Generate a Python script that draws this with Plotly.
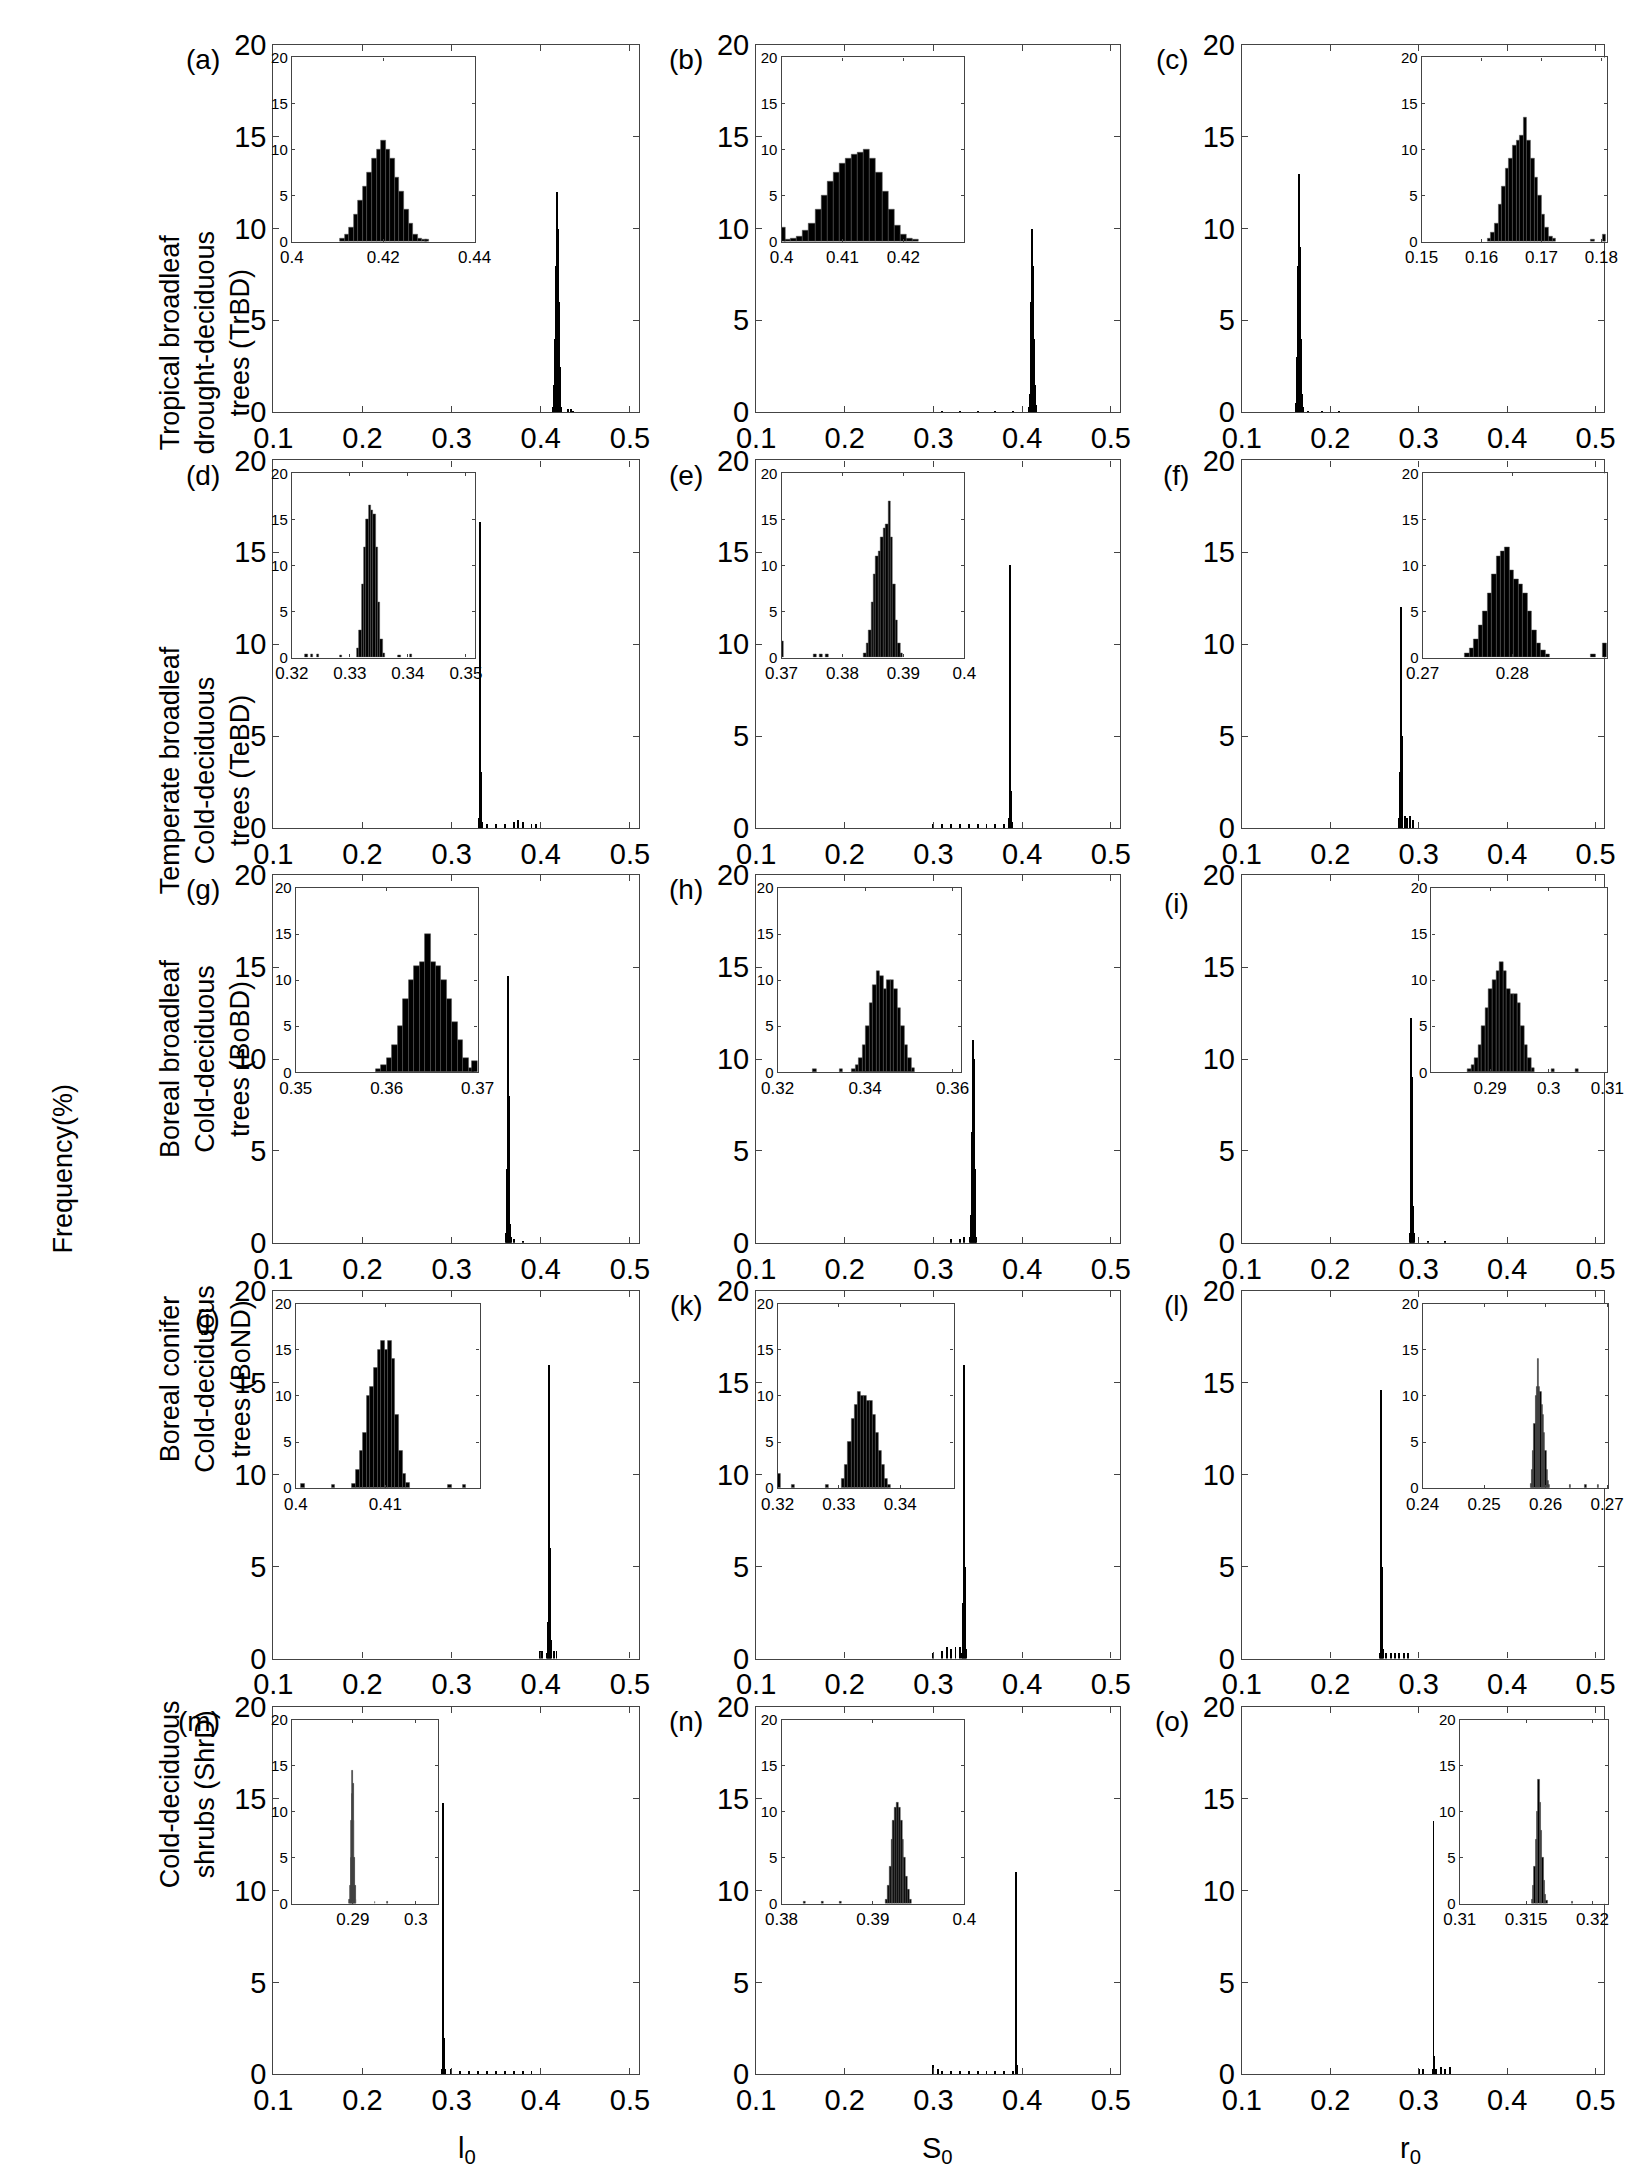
import plotly.graph_objects as go

W, H = 1632, 2169

letters = ["a", "b", "c", "d", "e", "f", "g", "h", "i", "j", "k", "l", "m", "n", "o"]
row_labels = [
    "Tropical broadleaf<br>drought-deciduous<br>trees (TrBD)",
    "Temperate broadleaf<br>Cold-deciduous<br>trees (TeBD)",
    "Boreal broadleaf<br>Cold-deciduous<br>trees (BoBD)",
    "Boreal conifer<br>Cold-deciduous<br>trees (BoND)",
    "Cold-deciduous<br>shrubs (ShrD)",
]
col_labels = ["l<sub>0</sub>", "S<sub>0</sub>", "r<sub>0</sub>"]
main_ticks = [0.1, 0.2, 0.3, 0.4, 0.5]
y_ticks = [0, 5, 10, 15, 20]

# main histogram spike: start, bin width, heights
main_start = [0.414, 0.407, 0.161, 0.331, 0.385, 0.277, 0.361, 0.341, 0.289, 0.407, 0.332, 0.256, 0.289, 0.393, 0.315]
main_width = 0.001
main_y = [
    [0.3, 1.5, 4, 8, 12, 10, 6, 2.5, 0.8, 0.3],
    [0.3, 1, 3, 6, 10, 8, 4, 1.5, 0.4],
    [0.5, 3, 8, 13, 9, 4, 1, 0.3],
    [0.5, 16.6, 3, 0.3],
    [0.5, 14.3, 2, 0.3],
    [0.5, 3, 12, 5, 1],
    [0.5, 4, 14.5, 8, 1, 0.3],
    [0.3, 1.5, 6, 11, 10, 4, 1, 0.3],
    [0.5, 4, 12.2, 9, 2, 0.5],
    [0.3, 2, 16, 6, 1],
    [0.3, 3, 16, 5, 0.5],
    [0.3, 14.6, 5, 0.5],
    [0.3, 14.8, 2, 0.3],
    [11, 0.5],
    [0.3, 13.8, 1, 0.3],
]
# scattered small bars in the main panels
tail_x = [
    [0.431, 0.434, 0.437],
    [0.31, 0.33, 0.35, 0.37, 0.39],
    [0.175, 0.19, 0.21],
    [0.34, 0.35, 0.36, 0.37, 0.375, 0.38, 0.39, 0.395],
    [0.30, 0.31, 0.32, 0.33, 0.34, 0.35, 0.36, 0.37, 0.38],
    [0.284, 0.287, 0.29, 0.293],
    [0.37, 0.38],
    [0.32, 0.33, 0.335],
    [0.31, 0.33],
    [0.399, 0.402, 0.415, 0.418],
    [0.30, 0.31, 0.315, 0.32, 0.325, 0.33],
    [0.263, 0.268, 0.273, 0.278, 0.283, 0.288],
    [0.30, 0.31, 0.32, 0.33, 0.34, 0.35, 0.36, 0.37, 0.38, 0.39, 0.40],
    [0.30, 0.305, 0.31, 0.32, 0.33, 0.34, 0.35, 0.36, 0.37, 0.38, 0.39],
    [0.30, 0.305, 0.32, 0.325, 0.33, 0.335],
]
tail_y = [
    [0.2, 0.2, 0.1],
    [0.1, 0.1, 0.1, 0.1, 0.1],
    [0.1, 0.1, 0.1],
    [0.2, 0.2, 0.2, 0.3, 0.4, 0.3, 0.2, 0.2],
    [0.2, 0.2, 0.2, 0.2, 0.2, 0.2, 0.2, 0.2, 0.2],
    [0.6, 0.5, 0.6, 0.4],
    [0.2, 0.1],
    [0.2, 0.2, 0.3],
    [0.1, 0.1],
    [0.4, 0.4, 0.4, 0.4],
    [0.3, 0.4, 0.6, 0.5, 0.6, 0.6],
    [0.3, 0.3, 0.3, 0.3, 0.3, 0.3],
    [0.3, 0.2, 0.2, 0.2, 0.2, 0.2, 0.2, 0.2, 0.2, 0.2, 0.2],
    [0.5, 0.3, 0.2, 0.2, 0.2, 0.2, 0.2, 0.2, 0.2, 0.2, 0.2],
    [0.3, 0.3, 0.3, 0.4, 0.3, 0.4],
]

# inset histograms: x range, ticks, bin start, bin width, heights, outliers
inset_range = [
    [0.40, 0.44], [0.40, 0.43], [0.15, 0.181],
    [0.32, 0.3515], [0.37, 0.40], [0.27, 0.2906],
    [0.35, 0.37], [0.32, 0.362], [0.28, 0.31],
    [0.40, 0.4205], [0.32, 0.3487], [0.24, 0.2702],
    [0.2803, 0.3036], [0.38, 0.40], [0.31, 0.3212],
]
inset_ticks = [
    [0.4, 0.42, 0.44], [0.4, 0.41, 0.42], [0.15, 0.16, 0.17, 0.18],
    [0.32, 0.33, 0.34, 0.35], [0.37, 0.38, 0.39, 0.4], [0.27, 0.28],
    [0.35, 0.36, 0.37], [0.32, 0.34, 0.36], [0.29, 0.3, 0.31],
    [0.4, 0.41], [0.32, 0.33, 0.34], [0.24, 0.25, 0.26, 0.27],
    [0.29, 0.3], [0.38, 0.39, 0.4], [0.31, 0.315, 0.32],
]
inset_start = [0.4105, 0.4005, 0.1610, 0.3312, 0.3835, 0.2747, 0.3588, 0.3370, 0.2862,
               0.4063, 0.3305, 0.2575, 0.2894, 0.3914, 0.3154]
inset_width = [0.001, 0.001, 0.0006, 0.0004, 0.0004, 0.0005, 0.0006, 0.0008, 0.0006,
               0.0004, 0.0005, 0.0002, 0.0001, 0.0002, 0.0001]
inset_y = [
    [0.3, 0.8, 1.5, 3, 4.5, 6, 7.5, 9, 10, 11, 10, 9, 7, 5.5, 3.5, 2, 0.8, 0.4, 0.2],
    [0.2, 0.3, 0.6, 1.2, 2, 3.5, 5, 6.5, 7.5, 8.5, 9, 9.5, 9.7, 10, 9, 7.5, 5.5, 3.5, 1.8, 0.8, 0.4, 0.2],
    [0.3, 1, 2, 4, 6, 8, 9, 10.5, 11, 11.5, 13.5, 11, 9, 7, 5, 3, 1.5, 0.6, 0.3],
    [1, 3, 8, 12, 15, 16.5, 16, 15.5, 12, 6, 2, 0.5],
    [0.5, 1.5, 3, 6, 9, 11, 11.5, 13, 14, 14.5, 17, 13, 8, 4, 1.5, 0.5],
    [0.5, 1, 2, 3.5, 5, 7, 9, 11, 11.5, 12, 9.5, 8.5, 8, 7, 5, 3, 1.5, 0.8, 0.4],
    [0.3, 0.8, 1.5, 3, 5, 8, 10, 11.5, 12, 15, 12, 11.5, 10, 8, 5.5, 3.5, 1.5, 0.5],
    [0.3, 0.8, 1.5, 3, 5, 7.5, 9.5, 11, 10.5, 9, 10, 10, 9, 7, 5, 3, 1.5, 0.5],
    [0.3, 0.8, 1.5, 3, 5, 7, 9, 10, 11, 12, 11, 9, 8.5, 8.5, 7.5, 5, 3, 1.5, 0.5],
    [0.5, 2, 4, 6, 10, 11, 13, 15, 16, 15, 16, 14, 8, 4, 1.5, 0.6],
    [1, 2.5, 5, 7.5, 9, 10.5, 10, 10, 9.5, 9.5, 8, 6, 4, 2.5, 1, 0.3],
    [0.5, 2, 4, 7, 10, 11, 14, 11, 10.5, 9, 8, 6, 4, 2, 0.8, 0.3],
    [0.5, 2, 5, 9, 12, 14.5, 13, 9, 5, 2, 0.5],
    [0.5, 2, 4, 7, 9, 10.5, 11, 10.5, 9, 7, 5, 3, 1.5, 0.5],
    [0.5, 2, 4, 7, 10, 13.5, 11, 8, 5, 2.5, 1, 0.3],
]
outlier_x = [
    [0.4295], [0.4002], [0.1785, 0.1805],
    [0.3225, 0.3235, 0.3245, 0.3285, 0.3385, 0.3405], [0.3702, 0.3755, 0.3765, 0.3775], [0.2890, 0.2903],
    [0.3697], [0.3285, 0.3345], [0.3007, 0.3048],
    [0.4008, 0.4042, 0.4172, 0.4188], [0.3202, 0.3225, 0.3280], [0.2640, 0.2665, 0.2685],
    [0.2935, 0.2955], [0.3825, 0.3845, 0.3865], [0.3185],
]
outlier_y = [
    [0.2], [1.5], [0.2, 0.8],
    [0.3, 0.3, 0.3, 0.2, 0.2, 0.3], [1.8, 0.3, 0.3, 0.3], [0.3, 1.5],
    [1.2], [0.3, 0.3], [0.3, 0.3],
    [0.5, 0.3, 0.3, 0.3], [1.5, 0.3, 0.3], [0.3, 0.3, 0.3],
    [0.2, 0.2], [0.2, 0.2, 0.2], [0.2],
]

# layout in pixels
col_px = [(251, 625), (745, 1117), (1242, 1613)]
row_top = [21, 443, 864, 1286, 1708]
row_h = 373
inset_px = [
    (270, 187), (771, 187), (1426, 190),
    (270, 187), (771, 187), (1427, 189),
    (274, 186), (767, 188), (1436, 180),
    (274, 188), (767, 180), (1427, 190),
    (270, 150), (771, 187), (1465, 152),
]
letter_dy = [0, 0, 0, 0, 0, 0, 0, 0, 14, 14, 0, 0, 0, 0, 0]

FONT = "Liberation Sans Narrow, Liberation Sans, Arial, sans-serif"
fig = go.Figure()
layout = {}
annotations = []

for p in range(15):
    r, c = divmod(p, 3)
    m_id, i_id = 2 * p + 1, 2 * p + 2
    xl, xr = col_px[c]
    yt, yb = row_top[r], row_top[r] + row_h
    xdom = [xl / W, xr / W]
    ydom = [1 - yb / H, 1 - yt / H]

    mx = [main_start[p] + (k + 0.5) * main_width for k in range(len(main_y[p]))] + tail_x[p]
    my = main_y[p] + tail_y[p]
    fig.add_trace(go.Bar(x=mx, y=my, width=main_width, marker=dict(color="black", line=dict(width=0)),
                         xaxis=f"x{m_id}", yaxis=f"y{m_id}", showlegend=False))

    iw = inset_width[p]
    ix = [inset_start[p] + (k + 0.5) * iw for k in range(len(inset_y[p]))] + outlier_x[p]
    iy = inset_y[p] + outlier_y[p]
    fig.add_trace(go.Bar(x=ix, y=iy, width=iw, marker=dict(color="black", line=dict(color="#555", width=0.5)),
                         xaxis=f"x{i_id}", yaxis=f"y{i_id}", showlegend=False))

    axis_common = dict(showgrid=False, zeroline=False, showline=True, linecolor="#444", linewidth=1.2,
                       mirror="ticks", ticks="inside", tickcolor="#444", fixedrange=True)
    layout[f"xaxis{m_id}"] = dict(axis_common, domain=xdom, anchor=f"y{m_id}", range=[0.1, 0.51],
                                  tickvals=main_ticks, ticktext=[str(t) for t in main_ticks], ticklen=6,
                                  tickfont=dict(family=FONT, size=29, color="black"))
    layout[f"yaxis{m_id}"] = dict(axis_common, domain=ydom, anchor=f"x{m_id}", range=[0, 20],
                                  tickvals=y_ticks, ticklen=6, tickfont=dict(family=FONT, size=29, color="black"))

    il, iwpx = inset_px[p]
    it, ib = yt + 13, yt + 200
    layout[f"xaxis{i_id}"] = dict(axis_common, domain=[il / W, (il + iwpx) / W], anchor=f"y{i_id}",
                                  range=inset_range[p], tickvals=inset_ticks[p],
                                  ticktext=[f"{t:g}" for t in inset_ticks[p]], ticklen=3,
                                  tickfont=dict(family=FONT, size=17, color="black"))
    layout[f"yaxis{i_id}"] = dict(axis_common, domain=[1 - ib / H, 1 - it / H], anchor=f"x{i_id}",
                                  range=[0, 20], tickvals=y_ticks, ticklen=3,
                                  tickfont=dict(family=FONT, size=15, color="black"))

    annotations.append(dict(text=f"({letters[p]})", x=(xl - 52) / W, y=1 - (yt - 3 + letter_dy[p]) / H,
                            xref="paper", yref="paper", xanchor="right", yanchor="top", showarrow=False,
                            font=dict(family=FONT, size=28, color="black")))

for r, lab in enumerate(row_labels):
    annotations.append(dict(text=lab, x=128 / W, y=1 - (row_top[r] + row_h / 2) / H, xref="paper", yref="paper",
                            textangle=-90, showarrow=False,
                            font=dict(family="Liberation Sans, Arial", size=27, color="black")))
annotations.append(dict(text="Frequency(%)", x=18 / W, y=1 - 1162 / H, xref="paper", yref="paper",
                        textangle=-90, showarrow=False, font=dict(family="Liberation Sans, Arial", size=27, color="black")))
for c, lab in enumerate(col_labels):
    xl, xr = col_px[c]
    annotations.append(dict(text=lab, x=(xl + xr) / 2 / W, y=1 - 2158 / H, xref="paper", yref="paper",
                            yanchor="middle", showarrow=False, font=dict(family=FONT, size=29, color="black")))

fig.update_layout(width=W, height=H, margin=dict(l=0, r=0, t=0, b=0), plot_bgcolor="white",
                  paper_bgcolor="white", bargap=0, annotations=annotations, **layout)
fig.write_html("out.html")
